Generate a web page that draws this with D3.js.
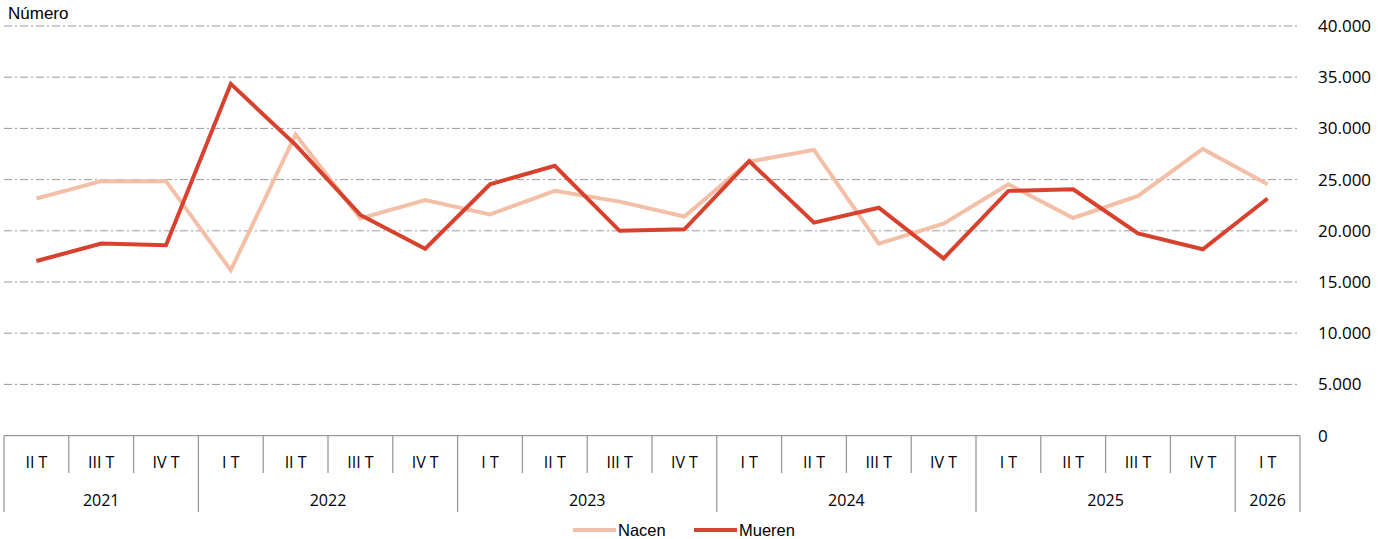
<!DOCTYPE html>
<html>
<head>
<meta charset="utf-8">
<script src="https://cdn.jsdelivr.net/npm/d3@7"></script>
<style>
  body { margin: 0; background: #fff; }
  svg { display: block; }
  .cal { font-family: "Open Sans", sans-serif; fill: #000; }
  .ar { font-family: "Liberation Sans", Arial, sans-serif; fill: #000; }
</style>
</head>
<body>
<div id="chart"></div>
<script>
// data
const quarters = ["II T","III T","IV T","I T","II T","III T","IV T","I T","II T","III T","IV T","I T","II T","III T","IV T","I T","II T","III T","IV T","I T"];
const yearLabels = ["2021","2022","2023","2024","2025","2026"];
const yearSpans = [3, 4, 4, 4, 4, 1];
const nacen = [23150, 24850, 24850, 16150, 29400, 21200, 23000, 21600, 23900, 22850, 21400, 26750, 27900, 18750, 20700, 24550, 21250, 23400, 28000, 24550];
const mueren = [17050, 18750, 18600, 34350, 28400, 21550, 18250, 24550, 26350, 20000, 20150, 26800, 20800, 22250, 17300, 23900, 24050, 19750, 18200, 23150];
const yTicks = [0, 5000, 10000, 15000, 20000, 25000, 30000, 35000, 40000];
const seriesNames = ["Nacen", "Mueren"];
const seriesColors = ["#f4bfa7", "#d9412f"];

const width = 1389, height = 539;
const svg = d3.select("#chart").append("svg").attr("width", width).attr("height", height);

const x = d3.scaleBand().domain(d3.range(quarters.length)).range([4, 1300]).padding(0);
const y = d3.scaleLinear().domain([0, 40000]).range([435.6, 26]);

const gridCol = "#9a9a9a";

// gridlines
svg.append("g").selectAll("line")
  .data(yTicks.filter(d => d > 0))
  .enter().append("line")
  .attr("x1", 4).attr("x2", 1300)
  .attr("y1", d => y(d)).attr("y2", d => y(d))
  .attr("stroke", gridCol).attr("stroke-width", 1)
  .attr("stroke-dasharray", "8 3 2 3");

// right axis labels
const fmt = d => d === 0 ? "0" : d3.format(",")(d).replace(/,/g, ".");
svg.append("g").selectAll("text")
  .data(yTicks)
  .enter().append("text")
  .attr("class", "cal")
  .attr("x", 1318)
  .attr("y", d => y(d))
  .attr("dy", "0.35em")
  .style("font-size", "17px")
  .text(fmt);

svg.append("text").attr("class", "ar")
  .attr("x", 8).attr("y", 19)
  .style("font-size", "17px")
  .text("Número");

// category table
const tbl = svg.append("g").attr("stroke", gridCol).attr("stroke-width", 1.3);
tbl.append("line").attr("x1", 4).attr("x2", 1300).attr("y1", y(0)).attr("y2", y(0));

const yearStarts = yearSpans.map((s, i) => d3.sum(yearSpans.slice(0, i)));
const edges = d3.range(quarters.length + 1);
tbl.selectAll("line.q")
  .data(edges)
  .enter().append("line")
  .attr("class", "q")
  .attr("x1", i => i < quarters.length ? x(i) : x(i - 1) + x.bandwidth())
  .attr("x2", i => i < quarters.length ? x(i) : x(i - 1) + x.bandwidth())
  .attr("y1", y(0))
  .attr("y2", i => (yearStarts.includes(i) || i === quarters.length) ? 512 : 473);

svg.append("g").selectAll("text")
  .data(quarters)
  .enter().append("text")
  .attr("class", "cal")
  .attr("x", (d, i) => x(i) + x.bandwidth() / 2)
  .attr("y", 462)
  .attr("dy", "0.35em")
  .attr("text-anchor", "middle")
  .style("font-size", "16px")
  .text(d => d);

svg.append("g").selectAll("text")
  .data(yearLabels)
  .enter().append("text")
  .attr("class", "cal")
  .attr("x", (d, i) => {
    const s = yearStarts[i], e = s + yearSpans[i] - 1;
    return (x(s) + x(e) + x.bandwidth()) / 2;
  })
  .attr("y", 500)
  .attr("dy", "0.35em")
  .attr("text-anchor", "middle")
  .style("font-size", "16px")
  .text(d => d);

// lines
const line = d3.line()
  .x((d, i) => x(i) + x.bandwidth() / 2)
  .y(d => y(d));

[nacen, mueren].forEach((s, k) => {
  svg.append("path")
    .datum(s)
    .attr("d", line)
    .attr("fill", "none")
    .attr("stroke", seriesColors[k])
    .attr("stroke-width", 4)
    .attr("stroke-linejoin", "miter");
});

// legend
const legX = [573, 694];
seriesNames.forEach((n, k) => {
  svg.append("line")
    .attr("x1", legX[k]).attr("x2", legX[k] + 43)
    .attr("y1", 530).attr("y2", 530)
    .attr("stroke", seriesColors[k]).attr("stroke-width", 4);
  svg.append("text").attr("class", "ar")
    .attr("x", legX[k] + 45).attr("y", 530)
    .attr("dy", "0.35em")
    .style("font-size", "16.5px")
    .text(n);
});
</script>
</body>
</html>
